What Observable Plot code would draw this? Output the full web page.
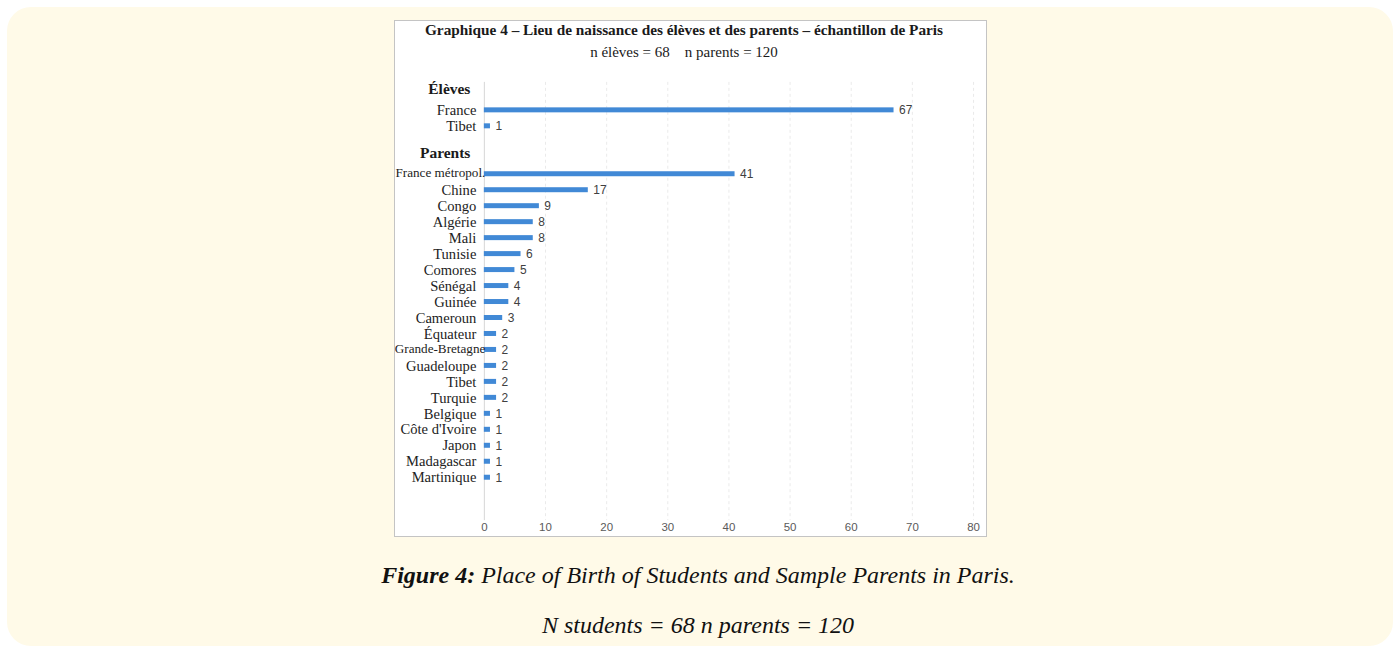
<!DOCTYPE html>
<html>
<head>
<meta charset="utf-8">
<script src="https://cdn.jsdelivr.net/npm/d3@7"></script>
<script src="https://cdn.jsdelivr.net/npm/@observablehq/plot@0.6"></script>
<style>
  html, body { margin: 0; padding: 0; background: #ffffff; width: 1393px; height: 646px; overflow: hidden; }
  #panel { position: absolute; left: 7px; top: 7px; width: 1386px; height: 639px; background: #fffae8; border-radius: 24px; }
  #box { position: absolute; left: 394px; top: 20px; width: 593px; height: 517px; background: #fff; border: 1px solid #c4c4c4; box-sizing: border-box; }
  #box svg { position: absolute; left: 0; top: 0; }
  .ttl { position: absolute; left: 0; width: 578px; text-align: center; font-family: "Liberation Serif", serif; color: #1a1a1a; white-space: pre; }
  #title { top: 0px; font-weight: bold; font-size: 15.3px; }
  #subtitle { top: 23px; font-size: 15px; }
  .cap { position: absolute; left: 0; width: 1396px; text-align: center; font-family: "Liberation Serif", serif; font-style: italic; font-size: 24px; color: #111; white-space: pre; }
  #cap1 { top: 562px; }
  #cap2 { top: 612px; }
</style>
</head>
<body>
<div id="panel"></div>
<div id="box">
  <div id="title" class="ttl">Graphique 4 – Lieu de naissance des élèves et des parents – échantillon de Paris</div>
  <div id="subtitle" class="ttl">n élèves = 68    n parents = 120</div>
</div>
<div id="cap1" class="cap"><b>Figure 4:</b> Place of Birth of Students and Sample Parents in Paris.</div>
<div id="cap2" class="cap">N students = 68 n parents = 120</div>
<script>
// ---- data ----
const groupLabels = ["Élèves", "Parents"];
const eleveCountries = ["France", "Tibet"];
const eleveValues = [67, 1];
const parentCountries = ["France métropol.", "Chine", "Congo", "Algérie", "Mali", "Tunisie", "Comores", "Sénégal", "Guinée", "Cameroun", "Équateur", "Grande-Bretagne", "Guadeloupe", "Tibet", "Turquie", "Belgique", "Côte d'Ivoire", "Japon", "Madagascar", "Martinique"];
const parentValues = [41, 17, 9, 8, 8, 6, 5, 4, 4, 3, 2, 2, 2, 2, 2, 1, 1, 1, 1, 1];
const xTicks = [0, 10, 20, 30, 40, 50, 60, 70, 80];
const longLabels = ["France métropol.", "Grande-Bretagne"];

// ---- rows (headers, bars, spacers) ----
const rows = [];
rows.push({key: "h0", label: groupLabels[0], header: true});
eleveCountries.forEach((c, i) => rows.push({key: "e" + i, label: c, value: eleveValues[i]}));
rows.push({key: "s0", label: ""});
rows.push({key: "h1", label: groupLabels[1], header: true});
parentCountries.forEach((c, i) => rows.push({key: "p" + i, label: c, value: parentValues[i]}));
rows.push({key: "s1", label: ""});
rows.push({key: "s2", label: ""});

const bars = rows.filter(r => r.value != null);
const headers = rows.filter(r => r.header);
const normalLabels = bars.filter(r => !longLabels.includes(r.label));
const squeezedLabels = bars.filter(r => longLabels.includes(r.label));

const barColor = "#4189d6";
const serif = "Liberation Serif, serif";
const sans = "Liberation Sans, Arial, sans-serif";

const chart = Plot.plot({
  width: 592,
  height: 518,
  marginLeft: 89,
  marginRight: 13,
  marginTop: 61,
  marginBottom: 18,
  style: {background: "transparent"},
  x: {domain: [0, 80], axis: null},
  y: {domain: rows.map(r => r.key), padding: 0, axis: null},
  marks: [
    Plot.gridX(xTicks.slice(1), {stroke: "#cfcfcf", strokeOpacity: 0.45, strokeDasharray: "3,3"}),
    Plot.ruleX([0], {stroke: "#d6d6d6"}),
    Plot.axisX({ticks: xTicks, tickSize: 0, tickPadding: 2, label: null, fontSize: 11.5, fill: "#5a5a5a", fontFamily: sans}),
    Plot.barX(bars, {x: "value", y: "key", fill: barColor, insetTop: 5.5, insetBottom: 5.5}),
    Plot.text(bars, {x: "value", y: "key", text: d => String(d.value), textAnchor: "start", dx: 5, fontSize: 12, fill: "#404040", fontFamily: sans}),
    Plot.text(normalLabels, {x: d => 0, y: "key", text: "label", textAnchor: "end", dx: -8, fontSize: 14.6, fill: "#222", fontFamily: serif}),
    Plot.text(squeezedLabels, {x: d => 0, y: "key", text: "label", textAnchor: "end", dx: 1, dy: -1, fontSize: 13.2, fill: "#222", fontFamily: serif}),
    Plot.text(headers, {x: d => 0, y: "key", text: "label", textAnchor: "end", dx: -14, dy: -5, fontSize: 15.5, fontWeight: "bold", fill: "#1a1a1a", fontFamily: serif})
  ]
});
document.getElementById("box").appendChild(chart);
</script>
</body>
</html>
